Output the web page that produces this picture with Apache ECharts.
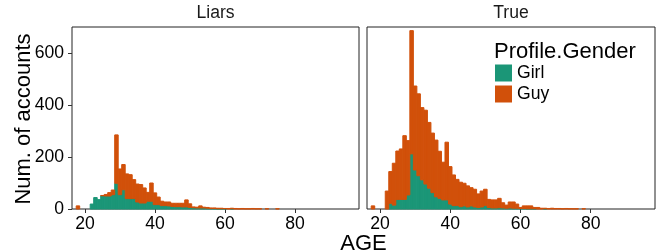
<!DOCTYPE html>
<html>
<head>
<meta charset="utf-8">
<script src="https://cdn.jsdelivr.net/npm/echarts@6/dist/echarts.min.js"></script>
<style>
  html, body { margin: 0; padding: 0; background: #fff; }
  #chart { width: 656px; height: 252px; }
</style>
</head>
<body>
<div id="chart"></div>
<script>
// ages 18..79, one bin per year
const ages = [18, 19, 20, 21, 22, 23, 24, 25, 26, 27, 28, 29, 30, 31, 32, 33, 34, 35, 36, 37,
  38, 39, 40, 41, 42, 43, 44, 45, 46, 47, 48, 49, 50, 51, 52, 53, 54, 55, 56, 57,
  58, 59, 60, 61, 62, 63, 64, 65, 66, 67, 68, 69, 70, 71, 72, 73, 74, 75, 76, 77, 78, 79]

// Liars panel
const liarsGirl = [0, 0, 0, 0, 19, 44, 36, 51, 50, 50, 55, 99, 55, 74, 40, 40, 40, 27, 23, 23,
  30, 30, 17, 17, 13, 13, 12, 10, 9, 9, 8, 8, 6, 5, 4, 4, 4, 3, 2, 2,
  1, 1, 1, 0, 1, 0, 0, 0, 0, 0, 0, 0, 0, 0, 0, 0, 0, 0, 0, 0, 0, 0]
const liarsGuy = [12, 0, 0, 0, 0, 0, 0, 1, 6, 13, 18, 186, 99, 97, 95, 92, 73, 69, 71, 58,
  34, 70, 45, 29, 17, 14, 15, 12, 13, 13, 14, 27, 14, 3, 3, 8, 3, 3, 2, 2,
  2, 2, 1, 2, 2, 2, 1, 2, 1, 1, 2, 1, 1, 0, 1, 0, 0, 1, 0, 0, 0, 0]

// True panel
const trueGirl = [0, 0, 0, 0, 0, 22, 15, 37, 37, 37, 54, 212, 150, 128, 112, 96, 80, 63, 47, 41,
  35, 35, 19, 13, 13, 9, 12, 8, 12, 8, 6, 8, 14, 6, 4, 4, 5, 4, 3, 4,
  3, 3, 2, 2, 1, 1, 1, 0, 0, 1, 0, 0, 0, 0, 0, 0, 0, 0, 0, 0, 0, 0]
const trueGuy = [12, 0, 0, 0, 69, 122, 161, 186, 194, 245, 209, 474, 323, 315, 278, 284, 253, 229, 218, 181,
  145, 222, 144, 118, 101, 94, 87, 81, 70, 68, 52, 61, 62, 31, 31, 31, 36, 20, 12, 23,
  24, 16, 4, 10, 11, 11, 5, 6, 3, 2, 2, 3, 2, 2, 1, 2, 1, 1, 1, 0, 1, 0]

const panels = ['Liars', 'True']
const xTicks = [20, 40, 60, 80]
const yTicks = [0, 200, 400, 600]

const GIRL = '#1b9677'
const GUY = '#d1500a'
const FONT = '"Liberation Sans", Arial, sans-serif'

// [age, bottom, top] rows for stacked bins
function stackRows(bottom, top) {
  return ages.map((a, i) => [a, bottom ? bottom[i] : 0, (bottom ? bottom[i] : 0) + top[i]])
}

function renderBin(params, api) {
  const lo = api.value(1)
  const hi = api.value(2)
  if (hi <= lo) return
  const x = api.value(0)
  const p0 = api.coord([x - 0.5, hi])
  const p1 = api.coord([x + 0.5, lo])
  const color = api.visual('color')
  return {
    type: 'rect',
    shape: { x: p0[0], y: p0[1], width: p1[0] - p0[0], height: p1[1] - p0[1] },
    style: { fill: color, stroke: color, lineWidth: 1 }
  }
}

const grids = [
  { left: 72, top: 27, width: 287, height: 182 },
  { left: 367, top: 27, width: 288, height: 182 }
].map(g => ({ ...g, show: true, borderColor: '#222', borderWidth: 1, backgroundColor: 'transparent' }))

const xAxes = [0, 1].map(i => ({
  type: 'value', gridIndex: i, min: 16.3, max: 98.3,
  splitLine: { show: false },
  axisLine: { show: false },
  axisTick: { show: true, length: 4, customValues: xTicks, lineStyle: { color: '#333' } },
  axisLabel: { customValues: xTicks, margin: 6, fontSize: 17.6, color: '#000', fontFamily: FONT }
}))

const yAxes = [0, 1].map(i => ({
  type: 'value', gridIndex: i, min: 0, max: 700,
  splitLine: { show: false },
  axisLine: { show: false },
  axisTick: { show: i === 0, length: 4, customValues: yTicks, lineStyle: { color: '#333' } },
  axisLabel: { show: i === 0, customValues: yTicks, margin: 8, fontSize: 17.6, color: '#000', fontFamily: FONT }
}))

const series = [
  [liarsGirl, liarsGuy],
  [trueGirl, trueGuy]
].flatMap(([girl, guy], i) => [
  {
    name: 'Girl', type: 'custom', xAxisIndex: i, yAxisIndex: i,
    renderItem: renderBin, itemStyle: { color: GIRL },
    encode: { x: 0, y: [1, 2] }, data: stackRows(null, girl)
  },
  {
    name: 'Guy', type: 'custom', xAxisIndex: i, yAxisIndex: i,
    renderItem: renderBin, itemStyle: { color: GUY },
    encode: { x: 0, y: [1, 2] }, data: stackRows(girl, guy)
  }
])

const chart = echarts.init(document.getElementById('chart'), null, { renderer: 'canvas' })
chart.setOption({
  animation: false,
  grid: grids,
  xAxis: xAxes,
  yAxis: yAxes,
  legend: {
    data: ['Girl', 'Guy'],
    orient: 'vertical',
    left: 495, top: 64,
    padding: 0,
    itemWidth: 17, itemHeight: 17, itemGap: 3,
    icon: 'rect',
    textStyle: { fontSize: 17.6, color: '#000', fontFamily: FONT }
  },
  graphic: [
    { type: 'text', x: 215.5, y: 13, style: { text: panels[0], align: 'center', verticalAlign: 'middle', fontSize: 17.6, fontFamily: FONT, fill: '#1a1a1a' } },
    { type: 'text', x: 511, y: 13, style: { text: panels[1], align: 'center', verticalAlign: 'middle', fontSize: 17.6, fontFamily: FONT, fill: '#1a1a1a' } },
    { type: 'text', x: 363.5, y: 243.5, style: { text: 'AGE', align: 'center', verticalAlign: 'middle', fontSize: 22, fontFamily: FONT, fill: '#000' } },
    { type: 'text', x: 24, y: 119, rotation: Math.PI / 2, style: { text: 'Num. of accounts', align: 'center', verticalAlign: 'middle', fontSize: 22, fontFamily: FONT, fill: '#000' } },
    { type: 'text', x: 494, y: 52, style: { text: 'Profile.Gender', align: 'left', verticalAlign: 'middle', fontSize: 22, fontFamily: FONT, fill: '#000' } }
  ],
  series: series
})
</script>
</body>
</html>
